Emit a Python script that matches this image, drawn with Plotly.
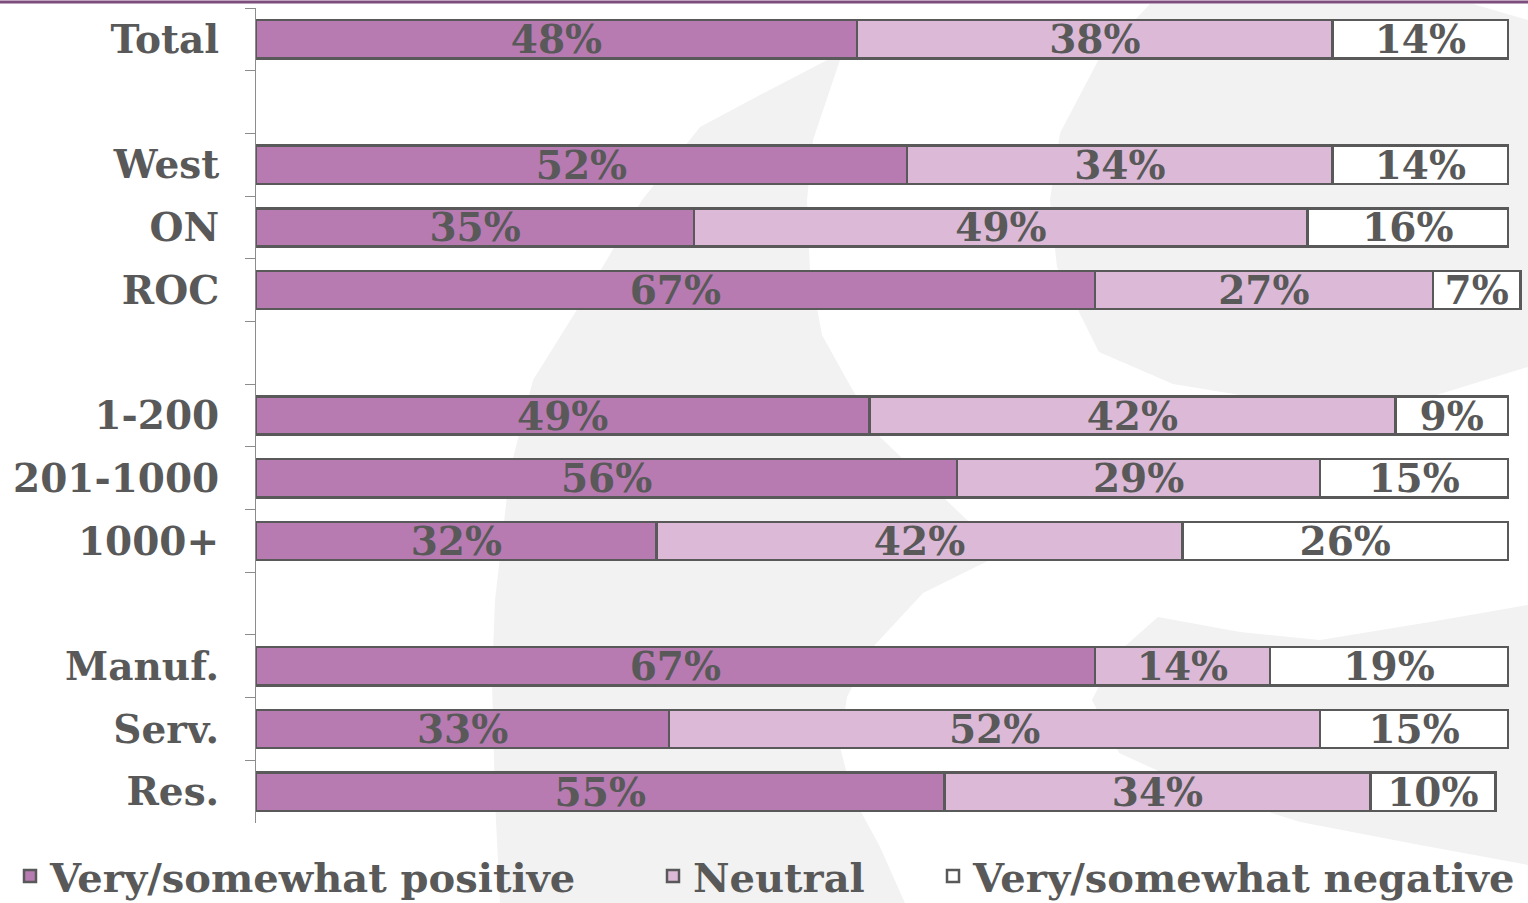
import plotly.graph_objects as go

# Row order (top to bottom); blank entries leave a spacer slot between groups
categories = ["Total", " ", "West", "ON", "ROC", "  ", "1-200", "201-1000", "1000+",
              "   ", "Manuf.", "Serv.", "Res."]

groups = ["Total", "West", "ON", "ROC", "1-200", "201-1000", "1000+",
          "Manuf.", "Serv.", "Res."]
positive = [48, 52, 35, 67, 49, 56, 32, 67, 33, 55]
neutral = [38, 34, 49, 27, 42, 29, 42, 14, 52, 34]
negative = [14, 14, 16, 7, 9, 15, 26, 19, 15, 10]

series_names = ["Very/somewhat positive", "Neutral", "Very/somewhat negative"]
series_colors = ["#B77BB2", "#DCBAD7", "#FFFFFF"]

TEXT = "#595959"
FONT = "DejaVu Serif"

W, H = 1528, 903
ML, MR, MT, MB = 256, 0, 8, 80
PW, PH = W - ML - MR, H - MT - MB


def paper_path(points):
    """Closed SVG path in paper coordinates from pixel positions."""
    parts = []
    for i, (px, py) in enumerate(points):
        x = (px - ML) / PW
        y = (H - MB - py) / PH
        parts.append(("M" if i == 0 else "L") + f"{x:.4f},{y:.4f}")
    return " ".join(parts) + " Z"


# faint watermark logo behind the bars
crescent = [(870, 24), (833, 57), (760, 95), (700, 127), (642, 200), (583, 300),
            (533, 380), (510, 470), (495, 600), (492, 680), (495, 800), (500, 903),
            (905, 903), (880, 847), (853, 797), (840, 747), (847, 697), (873, 647),
            (923, 593), (1010, 550), (967, 520), (880, 437), (847, 380), (822, 335),
            (810, 270), (807, 200), (813, 140), (840, 60)]
lens = [(1150, 4), (1300, 4), (1473, 4), (1528, 20), (1528, 367), (1430, 397),
        (1283, 402), (1173, 384), (1099, 352), (1073, 300), (1057, 267),
        (1050, 200), (1060, 133), (1100, 57)]
wedge = [(1092, 700), (1115, 655), (1158, 617), (1240, 632), (1320, 640),
         (1430, 622), (1528, 605), (1528, 865), (1420, 845), (1300, 822),
         (1200, 790), (1119, 753)]

shapes = [
    dict(type="path", xref="paper", yref="paper", path=paper_path(p),
         fillcolor="#F2F2F2", line=dict(width=0), layer="below")
    for p in (crescent, lens, wedge)
]
# purple rule across the top edge
shapes.append(dict(type="line", xref="paper", yref="paper",
                   x0=-ML / PW, x1=1.0, y0=(H - MB - 2) / PH, y1=(H - MB - 2) / PH,
                   line=dict(color="#7D4E7D", width=3), layer="above"))

fig = go.Figure()
legend_ids = ["legend", "legend2", "legend3"]
for vals, name, color, lg in zip([positive, neutral, negative], series_names,
                                 series_colors, legend_ids):
    fig.add_trace(go.Bar(
        x=vals, y=groups, orientation="h", name=name, legend=lg,
        marker=dict(color=color, line=dict(color="#595959", width=2.5)),
        texttemplate="%{x}%", textposition="inside", insidetextanchor="middle",
        constraintext="none", textangle=0,
        textfont=dict(family=FONT, size=39, color=TEXT, weight="bold"),
        hoverinfo="skip",
    ))

legend_font = dict(family=FONT, size=40, color=TEXT, weight="bold")
legend_y = (H - MB - 876) / PH


def legend_at(px_left):
    return dict(x=(px_left - ML) / PW, xanchor="left", y=legend_y, yanchor="middle",
                orientation="h", font=legend_font, bgcolor="rgba(0,0,0,0)",
                borderwidth=0)


fig.update_layout(
    width=W, height=H,
    margin=dict(l=ML, r=MR, t=MT, b=MB, autoexpand=False),
    barmode="stack", bargap=0.39,
    paper_bgcolor="white", plot_bgcolor="rgba(0,0,0,0)",
    showlegend=True,
    legend=legend_at(10), legend2=legend_at(653), legend3=legend_at(933),
    shapes=shapes,
    xaxis=dict(range=[0, 101.6], visible=False, showgrid=False, zeroline=False,
               fixedrange=True),
    yaxis=dict(type="category", categoryorder="array", categoryarray=categories,
               range=[len(categories) - 0.5, -0.5],
               ticks="outside", tickson="boundaries", ticklen=10, tickwidth=1,
               tickcolor="#8C8C8C", showline=True, linecolor="#8C8C8C", linewidth=1,
               showgrid=False, zeroline=False, ticklabelstandoff=28,
               tickfont=dict(family=FONT, size=39, color=TEXT, weight="bold")),
    uniformtext=dict(mode=False),
)

fig.write_html("out.html")
